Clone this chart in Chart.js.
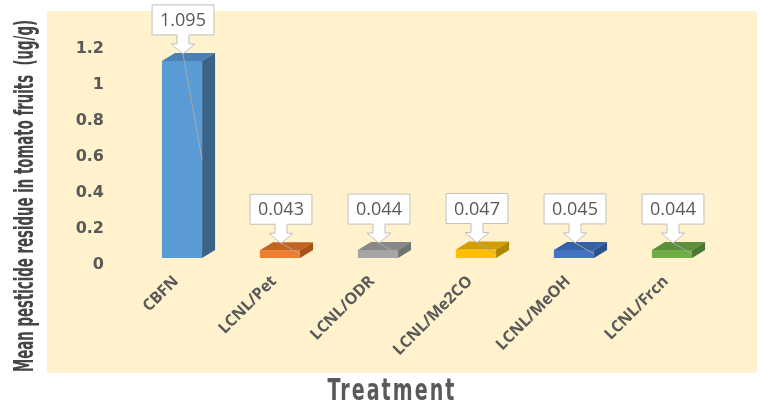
<!DOCTYPE html>
<html>
<head>
<meta charset="utf-8">
<script src="https://cdn.jsdelivr.net/npm/chart.js@4/dist/chart.umd.min.js"></script>
<style>
  html, body { margin: 0; padding: 0; background: #ffffff; }
  canvas { display: block; }
</style>
</head>
<body>
<canvas id="chart" width="760" height="408"></canvas>
<script>
// Treatments and their mean residue (ug/g)
const categories = ['CBFN', 'LCNL/Pet', 'LCNL/ODR', 'LCNL/Me2CO', 'LCNL/MeOH', 'LCNL/Frcn'];
const residues = [1.095, 0.043, 0.044, 0.047, 0.045, 0.044];
const valueLabels = ['1.095', '0.043', '0.044', '0.047', '0.045', '0.044'];

// Face colours for the extruded bars
const frontColors = ['#5B9BD5', '#ED7D31', '#A5A5A5', '#FFC000', '#4472C4', '#70AD47'];
const topColors   = ['#4A80B4', '#C4621F', '#888888', '#D19E00', '#3660AA', '#5B8F3A'];
const sideColors  = ['#3A6389', '#A8521A', '#727272', '#B08500', '#2D4F8C', '#4C7731'];

const yTitle = 'Mean pesticide residue in tomato fruits  (ug/g)';
const xTitle = 'Treatment';

const TEXT_GREY = '#595959';
const DEPTH_X = 13, DEPTH_Y = -8;

// Light panel behind the plot
const panelBackground = {
  id: 'panelBackground',
  beforeDraw(chart) {
    const ctx = chart.ctx;
    ctx.save();
    ctx.fillStyle = '#ffffff';
    ctx.fillRect(0, 0, chart.width, chart.height);
    ctx.fillStyle = '#FFF2CC';
    ctx.fillRect(47, 11, 710, 362);
    ctx.restore();
  }
};

// Extrusion faces, callout boxes and leader lines
const bar3d = {
  id: 'bar3d',
  afterDatasetsDraw(chart) {
    const ctx = chart.ctx;
    const meta = chart.getDatasetMeta(0);
    ctx.save();
    meta.data.forEach((bar, i) => {
      const p = bar.getProps(['x', 'y', 'base', 'width'], true);
      const left = p.x - p.width / 2, right = p.x + p.width / 2;
      // top face
      ctx.beginPath();
      ctx.moveTo(left, p.y);
      ctx.lineTo(left + DEPTH_X, p.y + DEPTH_Y);
      ctx.lineTo(right + DEPTH_X, p.y + DEPTH_Y);
      ctx.lineTo(right, p.y);
      ctx.closePath();
      ctx.fillStyle = topColors[i];
      ctx.fill();
      // side face
      ctx.beginPath();
      ctx.moveTo(right, p.y);
      ctx.lineTo(right + DEPTH_X, p.y + DEPTH_Y);
      ctx.lineTo(right + DEPTH_X, p.base + DEPTH_Y);
      ctx.lineTo(right, p.base);
      ctx.closePath();
      ctx.fillStyle = sideColors[i];
      ctx.fill();

      // callout with a downward block arrow
      const cx = p.x + 1;
      const tip = p.y + DEPTH_Y + 1;
      ctx.font = '18px "Open Sans", sans-serif';
      const tw = ctx.measureText(valueLabels[i]).width;
      const bw = tw + 16, bh = 30;
      const headH = 10, shaftH = 9;
      const bBottom = tip - headH - shaftH;
      const bTop = bBottom - bh;
      const bx = cx - bw / 2;
      ctx.beginPath();
      ctx.moveTo(bx, bTop);
      ctx.lineTo(bx + bw, bTop);
      ctx.lineTo(bx + bw, bBottom);
      ctx.lineTo(cx + 6, bBottom);
      ctx.lineTo(cx + 6, bBottom + shaftH);
      ctx.lineTo(cx + 12, bBottom + shaftH);
      ctx.lineTo(cx, tip);
      ctx.lineTo(cx - 12, bBottom + shaftH);
      ctx.lineTo(cx - 6, bBottom + shaftH);
      ctx.lineTo(cx - 6, bBottom);
      ctx.lineTo(bx, bBottom);
      ctx.closePath();
      ctx.fillStyle = '#ffffff';
      ctx.fill();
      ctx.lineWidth = 1;
      ctx.strokeStyle = '#BFBFBF';
      ctx.stroke();
      ctx.fillStyle = TEXT_GREY;
      ctx.textAlign = 'center';
      ctx.textBaseline = 'middle';
      ctx.fillText(valueLabels[i], cx, bTop + bh / 2 + 1);

      // leader line from arrow tip to the bar's mid height
      ctx.beginPath();
      ctx.moveTo(cx, tip);
      ctx.lineTo(right, (p.y + p.base) / 2);
      ctx.strokeStyle = 'rgba(170,170,170,0.9)';
      ctx.lineWidth = 1;
      ctx.stroke();
    });
    ctx.restore();
  }
};

// Condensed axis titles
function condensedText(ctx, text, fontPx, targetWidth, spacing) {
  ctx.font = 'bold ' + fontPx + 'px "DejaVu Sans Condensed", "Liberation Sans Narrow", "DejaVu Sans", sans-serif';
  if (spacing) ctx.letterSpacing = spacing + 'px';
  const w = ctx.measureText(text).width;
  ctx.scale(targetWidth / w, 1);
  ctx.textAlign = 'center';
  ctx.textBaseline = 'alphabetic';
  ctx.fillText(text, 0, 0);
}
const axisTitles = {
  id: 'axisTitles',
  afterDraw(chart) {
    const ctx = chart.ctx;
    ctx.save();
    ctx.fillStyle = '#454545';
    ctx.translate(33, 196);
    ctx.rotate(-Math.PI / 2);
    condensedText(ctx, yTitle, 26, 352, 0);
    ctx.restore();

    ctx.save();
    ctx.fillStyle = '#595959';
    ctx.translate(392, 400);
    condensedText(ctx, xTitle, 31, 129, 3);
    ctx.restore();
  }
};

new Chart(document.getElementById('chart'), {
  type: 'bar',
  data: {
    labels: categories,
    datasets: [{
      data: residues,
      backgroundColor: frontColors,
      borderWidth: 0,
      categoryPercentage: 1,
      barPercentage: 0.41
    }]
  },
  options: {
    responsive: false,
    animation: false,
    events: [],
    layout: { padding: { left: 47, right: 39, top: 42, bottom: 0 } },
    plugins: {
      legend: { display: false },
      title: { display: false },
      tooltip: { enabled: false }
    },
    scales: {
      x: {
        type: 'category',
        offset: true,
        grid: { display: false, drawTicks: false },
        border: { display: false },
        ticks: {
          autoSkip: false,
          minRotation: 45,
          maxRotation: 45,
          labelOffset: -6,
          padding: 14,
          color: TEXT_GREY,
          font: { family: '"Open Sans", sans-serif', size: 16, weight: 'bold' }
        },
        afterFit(scale) { scale.height = 150; }
      },
      y: {
        min: 0,
        max: 1.2,
        grid: { display: false, drawTicks: false },
        border: { display: false },
        ticks: {
          stepSize: 0.2,
          padding: 29,
          labelOffset: 7,
          color: TEXT_GREY,
          font: { family: '"DejaVu Sans", sans-serif', size: 16, weight: 'bold' },
          callback: (v) => String(Number(v.toFixed(2)))
        },
        afterFit(scale) { scale.width = 86; }
      }
    }
  },
  plugins: [panelBackground, bar3d, axisTitles]
});
</script>
</body>
</html>
